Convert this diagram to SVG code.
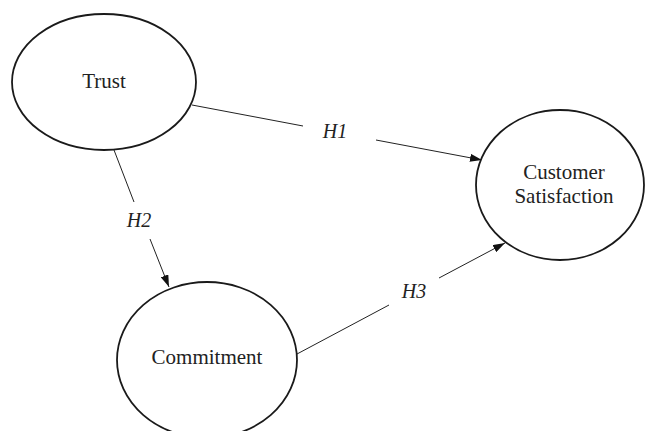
<svg xmlns="http://www.w3.org/2000/svg" width="645" height="431" viewBox="0 0 645 431">
<style>
.node{fill:#fff;stroke:#1a1a1a;stroke-width:1.8}
.lbl{font-family:"Liberation Serif","Times New Roman",serif;font-size:21px;fill:#222;text-anchor:middle}
.h{font-family:"Liberation Serif","Times New Roman",serif;font-size:20px;font-style:italic;fill:#222;text-anchor:middle}
.edge{fill:none;stroke:#222;stroke-width:1}
</style>
<defs>
<marker id="arr" viewBox="0 0 12 8" refX="12" refY="4" markerWidth="12" markerHeight="8" markerUnits="userSpaceOnUse" orient="auto">
<path d="M0,0 L12,4 L0,8 Z" fill="#111"/>
</marker>
</defs>
<rect width="645" height="431" fill="#fff"/>
<g id="connectors">
<path class="edge" d="M192,105 L303,126 M376,140 L482,160" marker-end="url(#arr)"/>
<path class="edge" d="M114,150 L134,202 M150,239 L169,287" marker-end="url(#arr)"/>
<path class="edge" d="M297,354 L389,305 M439,278 L505,243" marker-end="url(#arr)"/>
<text class="h" x="335" y="138">H1</text>
<text class="h" x="139" y="227">H2</text>
<text class="h" x="414" y="298">H3</text>
</g>
<g id="trust">
<ellipse class="node" cx="104" cy="82" rx="92" ry="68"/>
<text class="lbl" x="104" y="88">Trust</text>
</g>
<g id="customer-satisfaction">
<ellipse class="node" cx="560" cy="185" rx="84" ry="75"/>
<text class="lbl" x="564" y="179">Customer</text>
<text class="lbl" x="564" y="203">Satisfaction</text>
</g>
<g id="commitment">
<ellipse class="node" cx="207" cy="360" rx="90" ry="78"/>
<text class="lbl" x="207" y="364">Commitment</text>
</g>
</svg>
